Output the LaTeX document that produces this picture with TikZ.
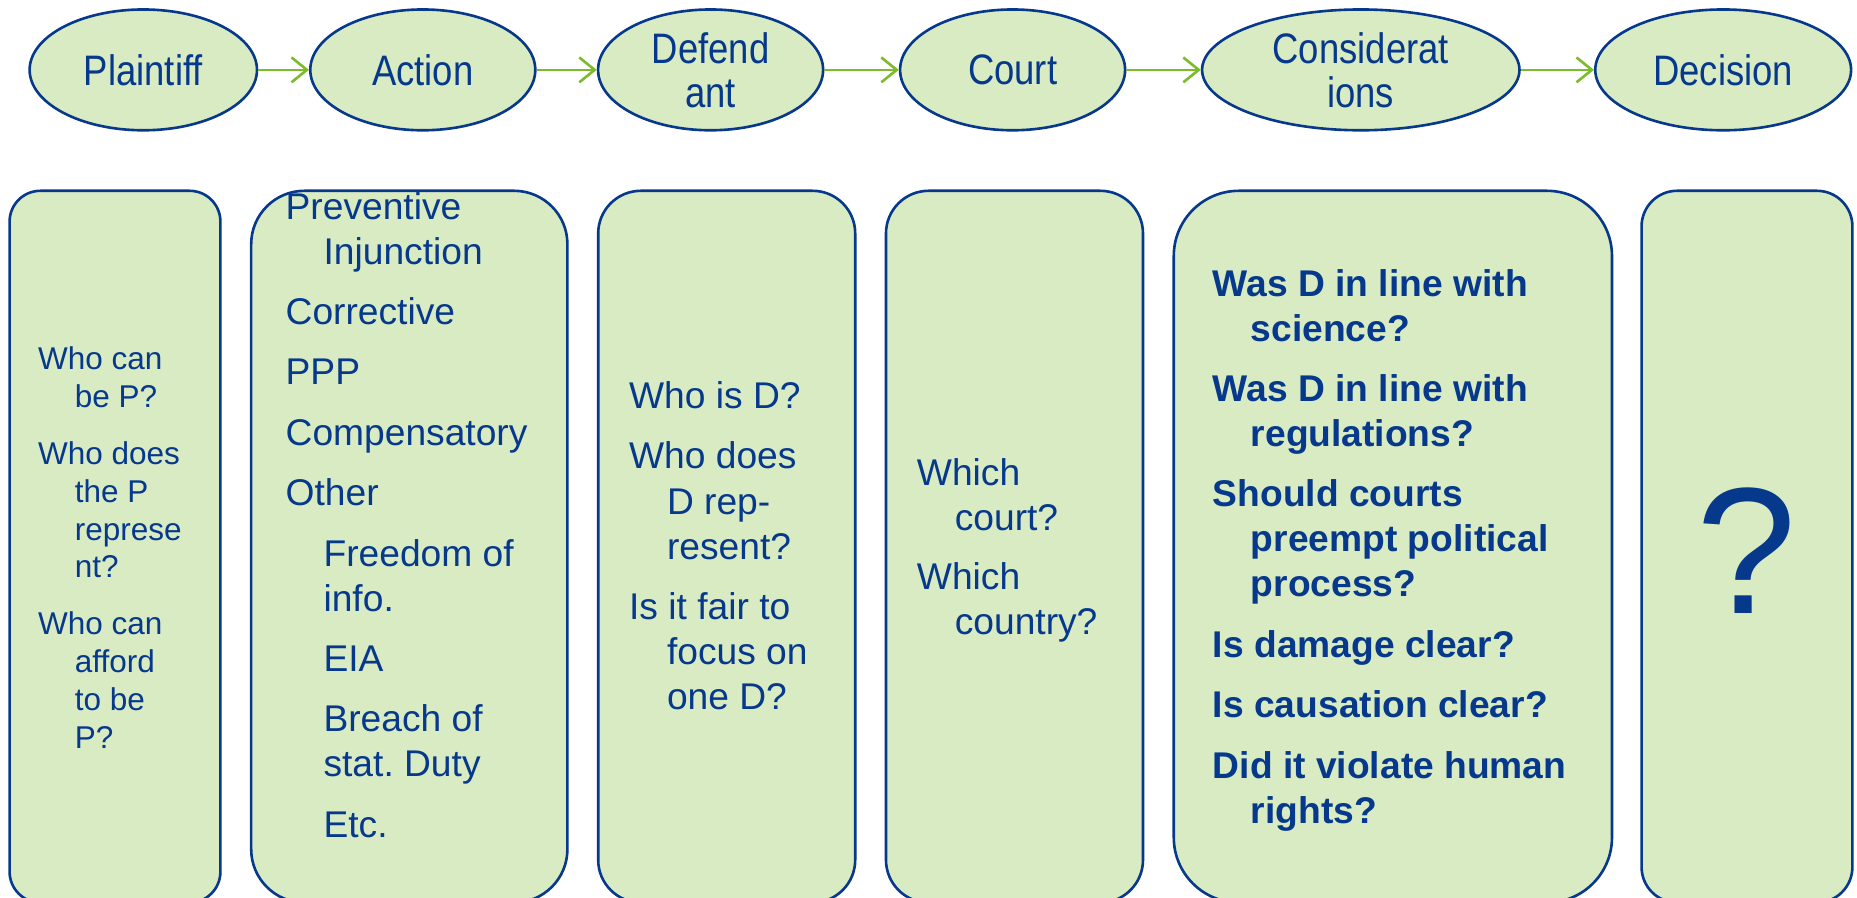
\documentclass[tikz,border=0pt]{standalone}
\usepackage{fontspec}
\setmainfont{Liberation Sans}
\newfontfamily\narrowsans[FakeStretch=0.855]{Liberation Sans}
\usetikzlibrary{shapes.geometric,arrows.meta}
\frenchspacing

\definecolor{fillgreen}{RGB}{217,235,194}
\definecolor{navy}{RGB}{6,56,140}
\definecolor{arrowgreen}{RGB}{124,187,44}

% one entry whose later lines hang under the first
\newcommand\hangline[1]{\hangindent=32pt\hangafter=1\relax\noindent#1\par}
% an indented sub-entry
\newcommand\nestline[1]{{\leftskip=32pt\noindent#1\par}}
% text block of a panel: width, size, leading, gap between entries, entries
\newcommand\panelblock[5]{\parbox[t]{#1}{\raggedright\let\\\newline
  \fontsize{#2}{#3}\selectfont\parskip=#4\relax #5}}

\begin{document}
\begin{tikzpicture}[x=1pt,y=-1pt,
  stage/.style={ellipse, draw=navy, line width=2.2pt, fill=fillgreen, inner sep=0pt,
    minimum height=102pt, text=navy, align=center,
    font=\narrowsans\fontsize{36}{37}\selectfont},
  flow/.style={draw=arrowgreen, line width=2.2pt,
    -{Straight Barb[length=13pt,width=21pt,line width=2.2pt]}},
  panel/.style={rectangle, draw=navy, line width=2.2pt, fill=fillgreen, inner sep=0pt,
    anchor=north west, minimum height=601pt},
  notes/.style={anchor=base west, inner sep=0pt, text=navy}
]
\useasboundingbox (0,0) rectangle (1568,758);
\fill[white] (0,0) rectangle (1568,758);

% stages of a case
\node[stage, minimum width=192pt] (pl) at (121,59) {Plaintiff};
\node[stage, minimum width=190pt] (ac) at (357,59) {Action};
\node[stage, minimum width=190pt] (de) at (600,59) {Defend\\ant};
\node[stage, minimum width=190pt] (co) at (855,59) {Court};
\node[stage, minimum width=268pt] (cs) at (1149,59) {Considerat\\ions};
\node[stage, minimum width=216pt] (dc) at (1455,59) {Decision};

\draw[flow] (pl) -- (ac);
\draw[flow] (ac) -- (de);
\draw[flow] (de) -- (co);
\draw[flow] (co) -- (cs);
\draw[flow] (cs) -- (dc);

\begin{scope}
\clip (0,0) rectangle (1568,758);
% question panels
\node[panel, minimum width=178pt, rounded corners=26pt] (p1) at (7,160) {};
\node[panel, minimum width=267pt, rounded corners=45pt] (p2) at (211,160) {};
\node[panel, minimum width=217pt, rounded corners=36pt] (p3) at (504,160) {};
\node[panel, minimum width=217pt, rounded corners=36pt] (p4) at (747,160) {};
\node[panel, minimum width=370pt, rounded corners=55pt] (p5) at (990,160) {};
\node[panel, minimum width=178pt, rounded corners=30pt] (p6) at (1385,160) {};
\end{scope}

\node[notes] (t1) at (32,312) {\panelblock{150pt}{26.6}{32}{16pt}{%
  \hangindent=31pt\hangafter=1\relax\noindent Who can\\be P?\par
  \hangindent=31pt\hangafter=1\relax\noindent Who does\\the P\\represe\\nt?\par
  \hangindent=31pt\hangafter=1\relax\noindent Who can\\afford\\to be\\P?\par}};

\node[notes] (t2) at (241,185) {\panelblock{235pt}{31.4}{38}{13pt}{%
  \hangline{Preventive\\Injunction}
  \hangline{Corrective}
  \hangline{PPP}
  \hangline{Compensatory}
  \hangline{Other}
  \nestline{Freedom of\\info.}
  \nestline{EIA}
  \nestline{Breach of\\stat. Duty}
  \nestline{Etc.}}};

\node[notes] (t3) at (531,345) {\panelblock{185pt}{31.4}{38}{13pt}{%
  \hangline{Who is D?}
  \hangline{Who does\\D rep-\\resent?}
  \hangline{Is it fair to\\focus on\\one D?}}};

\node[notes] (t4) at (774,410) {\panelblock{185pt}{31.4}{38}{12pt}{%
  \hangline{Which\\court?}
  \hangline{Which\\country?}}};

\node[notes, font=\bfseries] (t5) at (1024,250) {\panelblock{330pt}{31.4}{38}{13pt}{%
  \hangline{Was D in line with\\science?}
  \hangline{Was D in line with\\regulations?}
  \hangline{Should courts\\preempt political\\process?}
  \hangline{Is damage clear?}
  \hangline{Is causation clear?}
  \hangline{Did it violate human\\rights?}}};

\node[anchor=base, inner sep=0pt, text=navy, font=\fontsize{152}{154}\selectfont]
  (t6) at (1475,518) {?};
\end{tikzpicture}
\end{document}
